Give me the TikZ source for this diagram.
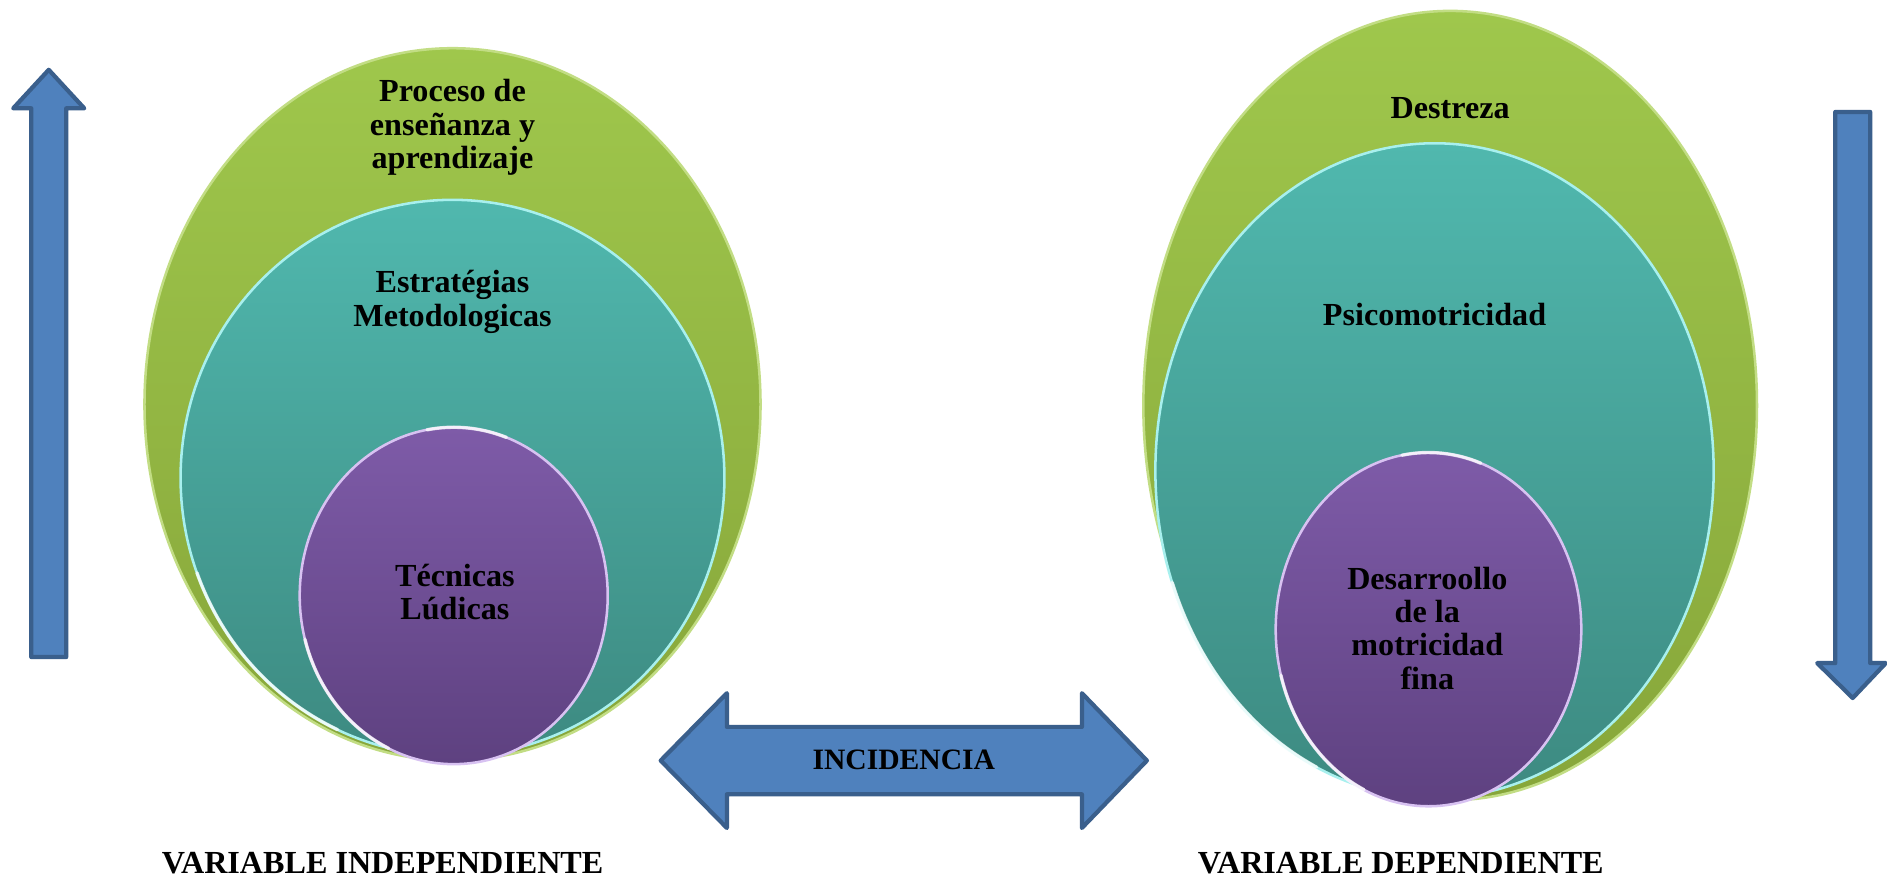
\documentclass[tikz,border=0pt]{standalone}
\usepackage{fontspec}
\setmainfont{Liberation Serif}
\usetikzlibrary{shapes.geometric,calc}
\definecolor{grTop}{HTML}{9FC74C}
\definecolor{grBot}{HTML}{87A63A}
\definecolor{grRim}{HTML}{C2DD84}
\definecolor{tlTop}{HTML}{50B8AE}
\definecolor{tlBot}{HTML}{3D8A81}
\definecolor{tlRim}{HTML}{A8F0EE}
\definecolor{puTop}{HTML}{7E5BA8}
\definecolor{puBot}{HTML}{5E4180}
\definecolor{puRim}{HTML}{D8C2F2}
\definecolor{arFill}{HTML}{4F81BD}
\definecolor{arLine}{HTML}{3A5F8C}
\tikzset{
  bubble/.style={ellipse, inner sep=0pt, outer sep=0pt, line width=1.2pt},
  greenbub/.style={bubble, top color=grTop, bottom color=grBot, draw=grRim},
  tealbub/.style={bubble, top color=tlTop, bottom color=tlBot, draw=tlRim},
  purplebub/.style={bubble, top color=puTop, bottom color=puBot, draw=puRim},
  gloss/.style={draw=white, line width=1.6pt, opacity=0.75, line cap=round},
  blockarrow/.style={fill=arFill, draw=arLine, line width=2pt, line join=round},
  lbl/.style={align=center, font=\bfseries\fontsize{15.2}{15.8}\selectfont, inner sep=0pt},
  biglbl/.style={font=\bfseries\fontsize{15.2}{16}\selectfont, inner sep=0pt},
  arlbl/.style={font=\bfseries\fontsize{14}{15}\selectfont, inner sep=0pt}
}
\begin{document}
\begin{tikzpicture}[x=0.02cm,y=-0.02cm]
\useasboundingbox (0,0) rectangle (1568,729);
\fill[white] (0,0) rectangle (1568,729);

% left ellipses
\node[greenbub, minimum width=10.24cm, minimum height=11.84cm] (lg) at (376,336) {};
\node[tealbub, minimum width=9.04cm, minimum height=9.24cm] (lt) at (376,397) {};
\draw[gloss, shift={(lt.center)}] (200:4.52cm and 4.62cm) arc[start angle=200, end angle=245, x radius=4.52cm, y radius=4.62cm];
\node[purplebub, minimum width=5.12cm, minimum height=5.6cm] (lp) at (377,495) {};
\draw[gloss, shift={(lp.center)}] (195:2.56cm and 2.8cm) arc[start angle=195, end angle=245, x radius=2.56cm, y radius=2.8cm];
\draw[gloss, shift={(lp.center)}] (100:2.56cm and 2.8cm) arc[start angle=100, end angle=70, x radius=2.56cm, y radius=2.8cm];

% right ellipses
\node[greenbub, minimum width=10.2cm, minimum height=13.12cm] (rg) at (1205,337) {};
\node[tealbub, minimum width=9.28cm, minimum height=10.88cm] (rt) at (1192,391) {};
\draw[gloss, shift={(rt.center)}] (200:4.64cm and 5.44cm) arc[start angle=200, end angle=245, x radius=4.64cm, y radius=5.44cm];
\node[purplebub, minimum width=5.08cm, minimum height=5.88cm] (rp) at (1187,523) {};
\draw[gloss, shift={(rp.center)}] (195:2.54cm and 2.94cm) arc[start angle=195, end angle=245, x radius=2.54cm, y radius=2.94cm];
\draw[gloss, shift={(rp.center)}] (100:2.54cm and 2.94cm) arc[start angle=100, end angle=70, x radius=2.54cm, y radius=2.94cm];

% texts in ellipses
\node[lbl] (t1) at (376,106) {Proceso de\\enseñanza y\\aprendizaje};
\node[lbl] (t2) at (376,251) {Estratégias\\Metodologicas};
\node[lbl] (t3) at (378,492) {Técnicas\\Lúdicas};
\node[lbl] (t4) at (1205,90) {Destreza};
\node[lbl] (t5) at (1192,261) {Psicomotricidad};
\node[lbl] (t6) at (1186,522) {Desarroollo\\de la\\motricidad\\fina};

% up arrow (left)
\draw[blockarrow] (26,546) -- (26,90) -- (11,90) -- (40.5,58) -- (70,90) -- (55,90) -- (55,546) -- cycle;
% down arrow (right)
\draw[blockarrow] (1525,93) -- (1525,551) -- (1510,551) -- (1539.5,580) -- (1567,551) -- (1554,551) -- (1554,93) -- cycle;
% double arrow
\draw[blockarrow] (549,632) -- (604,576) -- (604,604) -- (899,604) -- (899,576) -- (953,632) -- (899,688) -- (899,660) -- (604,660) -- (604,688) -- cycle;
\node[arlbl] (inc) at (751,631) {INCIDENCIA};

% variable labels
\node[biglbl] (vi) at (318,717) {VARIABLE INDEPENDIENTE};
\node[biglbl] (vd) at (1164,717) {VARIABLE DEPENDIENTE};
\end{tikzpicture}
\end{document}
